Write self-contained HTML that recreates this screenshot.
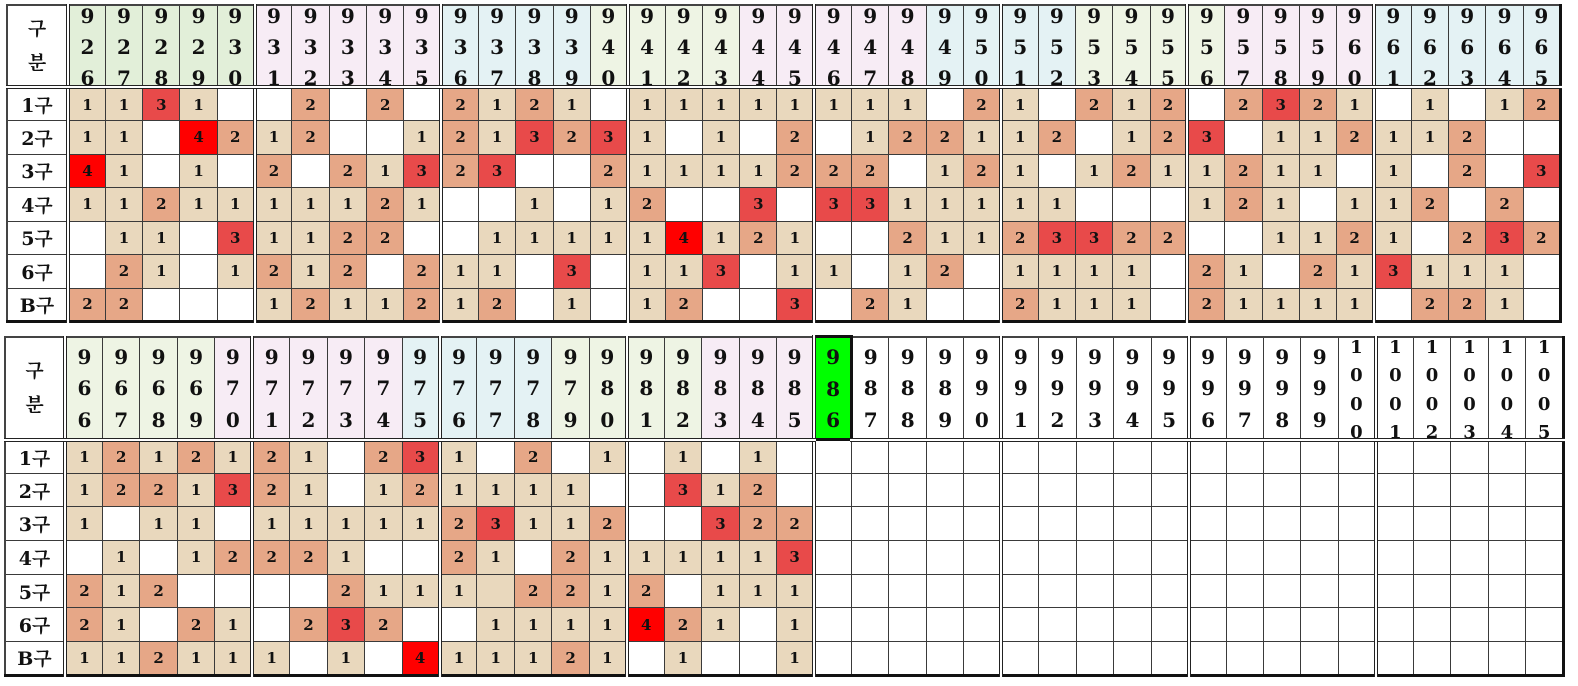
<!DOCTYPE html>
<html><head><meta charset="utf-8"><style>
body{margin:0;width:1578px;height:686px;background:#fff;position:relative;overflow:hidden}
table{border-collapse:collapse;table-layout:fixed;position:absolute;border:2px solid #444;border-right:3px solid #111;border-bottom:3px solid #111}
td{border:1px solid #3a3a3a;padding:0;text-align:center;vertical-align:middle;font:bold 15px "DejaVu Serif","Noto Serif CJK KR",serif;color:#111;overflow:hidden}
col.s{border-left:4px double #222}
col.L{border-right:4px double #222}
tr.h td{border-bottom:4px double #222}
td.lb{font:bold 19px "DejaVu Serif","Noto Serif CJK KR",serif;background:#fff}
.a{background:#e9d8bd}.b{background:#e6a787}.c{background:#e84a4a}.d{background:#ff0000}.e{background:#e9d8bd}
.G{background:#e2efd9}.g{background:#eef4e4}.p{background:#f7ecf5}.q{background:#e4f2f4}.V{background:#00ff00}
td.hd{vertical-align:top;font-size:20px}
#t1 td.hd div{line-height:31px;margin-top:-5px;height:82px}
#t2 td.hd div{line-height:31.5px;margin-top:4px}
#t2 td.k div{line-height:28.5px;margin-top:-4px;font-size:18px;height:100px}
</style></head><body>
<table id="t1" style="left:6px;top:4px;width:1556px">
<colgroup><col class="L" style="width:61px"><col class="s"><col><col><col><col><col class="s"><col><col><col><col><col class="s"><col><col><col><col><col class="s"><col><col><col><col><col class="s"><col><col><col><col><col class="s"><col><col><col><col><col class="s"><col><col><col><col><col class="s"><col><col><col><col></colgroup>
<tr class="h" style="height:82px"><td class="lb" style="line-height:34px">구<br>분</td>
<td class="hd G"><div>9<br>2<br>6</div></td><td class="hd G"><div>9<br>2<br>7</div></td><td class="hd G"><div>9<br>2<br>8</div></td><td class="hd G"><div>9<br>2<br>9</div></td><td class="hd G"><div>9<br>3<br>0</div></td>
<td class="hd p"><div>9<br>3<br>1</div></td><td class="hd p"><div>9<br>3<br>2</div></td><td class="hd p"><div>9<br>3<br>3</div></td><td class="hd p"><div>9<br>3<br>4</div></td><td class="hd p"><div>9<br>3<br>5</div></td>
<td class="hd q"><div>9<br>3<br>6</div></td><td class="hd q"><div>9<br>3<br>7</div></td><td class="hd q"><div>9<br>3<br>8</div></td><td class="hd q"><div>9<br>3<br>9</div></td><td class="hd g"><div>9<br>4<br>0</div></td>
<td class="hd g"><div>9<br>4<br>1</div></td><td class="hd g"><div>9<br>4<br>2</div></td><td class="hd g"><div>9<br>4<br>3</div></td><td class="hd p"><div>9<br>4<br>4</div></td><td class="hd p"><div>9<br>4<br>5</div></td>
<td class="hd p"><div>9<br>4<br>6</div></td><td class="hd p"><div>9<br>4<br>7</div></td><td class="hd p"><div>9<br>4<br>8</div></td><td class="hd q"><div>9<br>4<br>9</div></td><td class="hd q"><div>9<br>5<br>0</div></td>
<td class="hd q"><div>9<br>5<br>1</div></td><td class="hd q"><div>9<br>5<br>2</div></td><td class="hd g"><div>9<br>5<br>3</div></td><td class="hd g"><div>9<br>5<br>4</div></td><td class="hd g"><div>9<br>5<br>5</div></td>
<td class="hd g"><div>9<br>5<br>6</div></td><td class="hd p"><div>9<br>5<br>7</div></td><td class="hd p"><div>9<br>5<br>8</div></td><td class="hd p"><div>9<br>5<br>9</div></td><td class="hd p"><div>9<br>6<br>0</div></td>
<td class="hd q"><div>9<br>6<br>1</div></td><td class="hd q"><div>9<br>6<br>2</div></td><td class="hd q"><div>9<br>6<br>3</div></td><td class="hd q"><div>9<br>6<br>4</div></td><td class="hd q"><div>9<br>6<br>5</div></td></tr>
<tr style="height:33.5px"><td class="lb">1구</td>
<td class="a">1</td><td class="a">1</td><td class="c">3</td><td class="a">1</td><td></td>
<td></td><td class="b">2</td><td></td><td class="b">2</td><td></td>
<td class="b">2</td><td class="a">1</td><td class="b">2</td><td class="a">1</td><td></td>
<td class="a">1</td><td class="a">1</td><td class="a">1</td><td class="a">1</td><td class="a">1</td>
<td class="a">1</td><td class="a">1</td><td class="a">1</td><td></td><td class="b">2</td>
<td class="a">1</td><td></td><td class="b">2</td><td class="a">1</td><td class="b">2</td>
<td></td><td class="b">2</td><td class="c">3</td><td class="b">2</td><td class="a">1</td>
<td></td><td class="a">1</td><td></td><td class="a">1</td><td class="b">2</td></tr>
<tr style="height:33.5px"><td class="lb">2구</td>
<td class="a">1</td><td class="a">1</td><td></td><td class="d">4</td><td class="b">2</td>
<td class="a">1</td><td class="b">2</td><td></td><td></td><td class="a">1</td>
<td class="b">2</td><td class="a">1</td><td class="c">3</td><td class="b">2</td><td class="c">3</td>
<td class="a">1</td><td></td><td class="a">1</td><td></td><td class="b">2</td>
<td></td><td class="a">1</td><td class="b">2</td><td class="b">2</td><td class="a">1</td>
<td class="a">1</td><td class="b">2</td><td></td><td class="a">1</td><td class="b">2</td>
<td class="c">3</td><td></td><td class="a">1</td><td class="a">1</td><td class="b">2</td>
<td class="a">1</td><td class="a">1</td><td class="b">2</td><td></td><td></td></tr>
<tr style="height:33.5px"><td class="lb">3구</td>
<td class="d">4</td><td class="a">1</td><td></td><td class="a">1</td><td></td>
<td class="b">2</td><td></td><td class="b">2</td><td class="a">1</td><td class="c">3</td>
<td class="b">2</td><td class="c">3</td><td></td><td></td><td class="b">2</td>
<td class="a">1</td><td class="a">1</td><td class="a">1</td><td class="a">1</td><td class="b">2</td>
<td class="b">2</td><td class="b">2</td><td></td><td class="a">1</td><td class="b">2</td>
<td class="a">1</td><td></td><td class="a">1</td><td class="b">2</td><td class="a">1</td>
<td class="a">1</td><td class="b">2</td><td class="a">1</td><td class="a">1</td><td></td>
<td class="a">1</td><td></td><td class="b">2</td><td></td><td class="c">3</td></tr>
<tr style="height:33.5px"><td class="lb">4구</td>
<td class="a">1</td><td class="a">1</td><td class="b">2</td><td class="a">1</td><td class="a">1</td>
<td class="a">1</td><td class="a">1</td><td class="a">1</td><td class="b">2</td><td class="a">1</td>
<td></td><td></td><td class="a">1</td><td></td><td class="a">1</td>
<td class="b">2</td><td></td><td></td><td class="c">3</td><td></td>
<td class="c">3</td><td class="c">3</td><td class="a">1</td><td class="a">1</td><td class="a">1</td>
<td class="a">1</td><td class="a">1</td><td></td><td></td><td></td>
<td class="a">1</td><td class="b">2</td><td class="a">1</td><td></td><td class="a">1</td>
<td class="a">1</td><td class="b">2</td><td></td><td class="b">2</td><td></td></tr>
<tr style="height:33.5px"><td class="lb">5구</td>
<td></td><td class="a">1</td><td class="a">1</td><td></td><td class="c">3</td>
<td class="a">1</td><td class="a">1</td><td class="b">2</td><td class="b">2</td><td></td>
<td></td><td class="a">1</td><td class="a">1</td><td class="a">1</td><td class="a">1</td>
<td class="a">1</td><td class="d">4</td><td class="a">1</td><td class="b">2</td><td class="a">1</td>
<td></td><td></td><td class="b">2</td><td class="a">1</td><td class="a">1</td>
<td class="b">2</td><td class="c">3</td><td class="c">3</td><td class="b">2</td><td class="b">2</td>
<td></td><td></td><td class="a">1</td><td class="a">1</td><td class="b">2</td>
<td class="a">1</td><td></td><td class="b">2</td><td class="c">3</td><td class="b">2</td></tr>
<tr style="height:33.5px"><td class="lb">6구</td>
<td></td><td class="b">2</td><td class="a">1</td><td></td><td class="a">1</td>
<td class="b">2</td><td class="a">1</td><td class="b">2</td><td></td><td class="b">2</td>
<td class="a">1</td><td class="a">1</td><td></td><td class="c">3</td><td></td>
<td class="a">1</td><td class="a">1</td><td class="c">3</td><td></td><td class="a">1</td>
<td class="a">1</td><td></td><td class="a">1</td><td class="b">2</td><td></td>
<td class="a">1</td><td class="a">1</td><td class="a">1</td><td class="a">1</td><td></td>
<td class="b">2</td><td class="a">1</td><td></td><td class="b">2</td><td class="a">1</td>
<td class="c">3</td><td class="a">1</td><td class="a">1</td><td class="a">1</td><td></td></tr>
<tr style="height:33.5px"><td class="lb">B구</td>
<td class="b">2</td><td class="b">2</td><td></td><td></td><td></td>
<td class="a">1</td><td class="b">2</td><td class="a">1</td><td class="a">1</td><td class="b">2</td>
<td class="a">1</td><td class="b">2</td><td></td><td class="a">1</td><td></td>
<td class="a">1</td><td class="b">2</td><td></td><td></td><td class="c">3</td>
<td></td><td class="b">2</td><td class="a">1</td><td></td><td></td>
<td class="b">2</td><td class="a">1</td><td class="a">1</td><td class="a">1</td><td></td>
<td class="b">2</td><td class="a">1</td><td class="a">1</td><td class="a">1</td><td class="a">1</td>
<td></td><td class="b">2</td><td class="b">2</td><td class="a">1</td><td></td></tr>
</table>

<table id="t2" style="left:4px;top:335px;width:1561px">
<colgroup><col class="L" style="width:60px"><col class="s"><col><col><col><col><col class="s"><col><col><col><col><col class="s"><col><col><col><col><col class="s"><col><col><col><col><col class="s"><col><col><col><col><col class="s"><col><col><col><col><col class="s"><col><col><col><col><col class="s"><col><col><col><col></colgroup>
<tr class="h" style="height:103px"><td class="lb" style="line-height:34px">구<br>분</td>
<td class="hd g"><div>9<br>6<br>6</div></td><td class="hd g"><div>9<br>6<br>7</div></td><td class="hd g"><div>9<br>6<br>8</div></td><td class="hd g"><div>9<br>6<br>9</div></td><td class="hd p"><div>9<br>7<br>0</div></td>
<td class="hd p"><div>9<br>7<br>1</div></td><td class="hd p"><div>9<br>7<br>2</div></td><td class="hd p"><div>9<br>7<br>3</div></td><td class="hd p"><div>9<br>7<br>4</div></td><td class="hd q"><div>9<br>7<br>5</div></td>
<td class="hd q"><div>9<br>7<br>6</div></td><td class="hd q"><div>9<br>7<br>7</div></td><td class="hd q"><div>9<br>7<br>8</div></td><td class="hd g"><div>9<br>7<br>9</div></td><td class="hd g"><div>9<br>8<br>0</div></td>
<td class="hd g"><div>9<br>8<br>1</div></td><td class="hd g"><div>9<br>8<br>2</div></td><td class="hd p"><div>9<br>8<br>3</div></td><td class="hd p"><div>9<br>8<br>4</div></td><td class="hd p"><div>9<br>8<br>5</div></td>
<td class="hd V" style="border:3px solid #111"><div>9<br>8<br>6</div></td><td class="hd"><div>9<br>8<br>7</div></td><td class="hd"><div>9<br>8<br>8</div></td><td class="hd"><div>9<br>8<br>9</div></td><td class="hd"><div>9<br>9<br>0</div></td>
<td class="hd"><div>9<br>9<br>1</div></td><td class="hd"><div>9<br>9<br>2</div></td><td class="hd"><div>9<br>9<br>3</div></td><td class="hd"><div>9<br>9<br>4</div></td><td class="hd"><div>9<br>9<br>5</div></td>
<td class="hd"><div>9<br>9<br>6</div></td><td class="hd"><div>9<br>9<br>7</div></td><td class="hd"><div>9<br>9<br>8</div></td><td class="hd"><div>9<br>9<br>9</div></td><td class="hd k"><div>1<br>0<br>0<br>0</div></td>
<td class="hd k"><div>1<br>0<br>0<br>1</div></td><td class="hd k"><div>1<br>0<br>0<br>2</div></td><td class="hd k"><div>1<br>0<br>0<br>3</div></td><td class="hd k"><div>1<br>0<br>0<br>4</div></td><td class="hd k"><div>1<br>0<br>0<br>5</div></td></tr>
<tr style="height:33.7px"><td class="lb">1구</td>
<td class="a">1</td><td class="b">2</td><td class="a">1</td><td class="b">2</td><td class="a">1</td>
<td class="b">2</td><td class="a">1</td><td></td><td class="b">2</td><td class="c">3</td>
<td class="a">1</td><td></td><td class="b">2</td><td></td><td class="a">1</td>
<td></td><td class="a">1</td><td></td><td class="a">1</td><td></td>
<td></td><td></td><td></td><td></td><td></td><td></td><td></td><td></td><td></td><td></td><td></td><td></td><td></td><td></td><td></td><td></td><td></td><td></td><td></td><td></td></tr>
<tr style="height:33.7px"><td class="lb">2구</td>
<td class="a">1</td><td class="b">2</td><td class="b">2</td><td class="a">1</td><td class="c">3</td>
<td class="b">2</td><td class="a">1</td><td></td><td class="a">1</td><td class="b">2</td>
<td class="a">1</td><td class="a">1</td><td class="a">1</td><td class="a">1</td><td></td>
<td></td><td class="c">3</td><td class="a">1</td><td class="b">2</td><td></td>
<td></td><td></td><td></td><td></td><td></td><td></td><td></td><td></td><td></td><td></td><td></td><td></td><td></td><td></td><td></td><td></td><td></td><td></td><td></td><td></td></tr>
<tr style="height:33.7px"><td class="lb">3구</td>
<td class="a">1</td><td></td><td class="a">1</td><td class="a">1</td><td></td>
<td class="a">1</td><td class="a">1</td><td class="a">1</td><td class="a">1</td><td class="a">1</td>
<td class="b">2</td><td class="c">3</td><td class="a">1</td><td class="a">1</td><td class="b">2</td>
<td></td><td></td><td class="c">3</td><td class="b">2</td><td class="b">2</td>
<td></td><td></td><td></td><td></td><td></td><td></td><td></td><td></td><td></td><td></td><td></td><td></td><td></td><td></td><td></td><td></td><td></td><td></td><td></td><td></td></tr>
<tr style="height:33.7px"><td class="lb">4구</td>
<td></td><td class="a">1</td><td></td><td class="a">1</td><td class="b">2</td>
<td class="b">2</td><td class="b">2</td><td class="a">1</td><td></td><td></td>
<td class="b">2</td><td class="a">1</td><td></td><td class="b">2</td><td class="a">1</td>
<td class="a">1</td><td class="a">1</td><td class="a">1</td><td class="a">1</td><td class="c">3</td>
<td></td><td></td><td></td><td></td><td></td><td></td><td></td><td></td><td></td><td></td><td></td><td></td><td></td><td></td><td></td><td></td><td></td><td></td><td></td><td></td></tr>
<tr style="height:33.7px"><td class="lb">5구</td>
<td class="b">2</td><td class="a">1</td><td class="b">2</td><td></td><td></td>
<td></td><td></td><td class="b">2</td><td class="a">1</td><td class="a">1</td>
<td class="a">1</td><td class="e"></td><td class="b">2</td><td class="b">2</td><td class="a">1</td>
<td class="b">2</td><td></td><td class="a">1</td><td class="a">1</td><td class="a">1</td>
<td></td><td></td><td></td><td></td><td></td><td></td><td></td><td></td><td></td><td></td><td></td><td></td><td></td><td></td><td></td><td></td><td></td><td></td><td></td><td></td></tr>
<tr style="height:33.7px"><td class="lb">6구</td>
<td class="b">2</td><td class="a">1</td><td></td><td class="b">2</td><td class="a">1</td>
<td></td><td class="b">2</td><td class="c">3</td><td class="b">2</td><td></td>
<td></td><td class="a">1</td><td class="a">1</td><td class="a">1</td><td class="a">1</td>
<td class="d">4</td><td class="b">2</td><td class="a">1</td><td></td><td class="a">1</td>
<td></td><td></td><td></td><td></td><td></td><td></td><td></td><td></td><td></td><td></td><td></td><td></td><td></td><td></td><td></td><td></td><td></td><td></td><td></td><td></td></tr>
<tr style="height:33.7px"><td class="lb">B구</td>
<td class="a">1</td><td class="a">1</td><td class="b">2</td><td class="a">1</td><td class="a">1</td>
<td class="a">1</td><td></td><td class="a">1</td><td></td><td class="d">4</td>
<td class="a">1</td><td class="a">1</td><td class="a">1</td><td class="b">2</td><td class="a">1</td>
<td></td><td class="a">1</td><td></td><td></td><td class="a">1</td>
<td></td><td></td><td></td><td></td><td></td><td></td><td></td><td></td><td></td><td></td><td></td><td></td><td></td><td></td><td></td><td></td><td></td><td></td><td></td><td></td></tr>
</table>
</body></html>
